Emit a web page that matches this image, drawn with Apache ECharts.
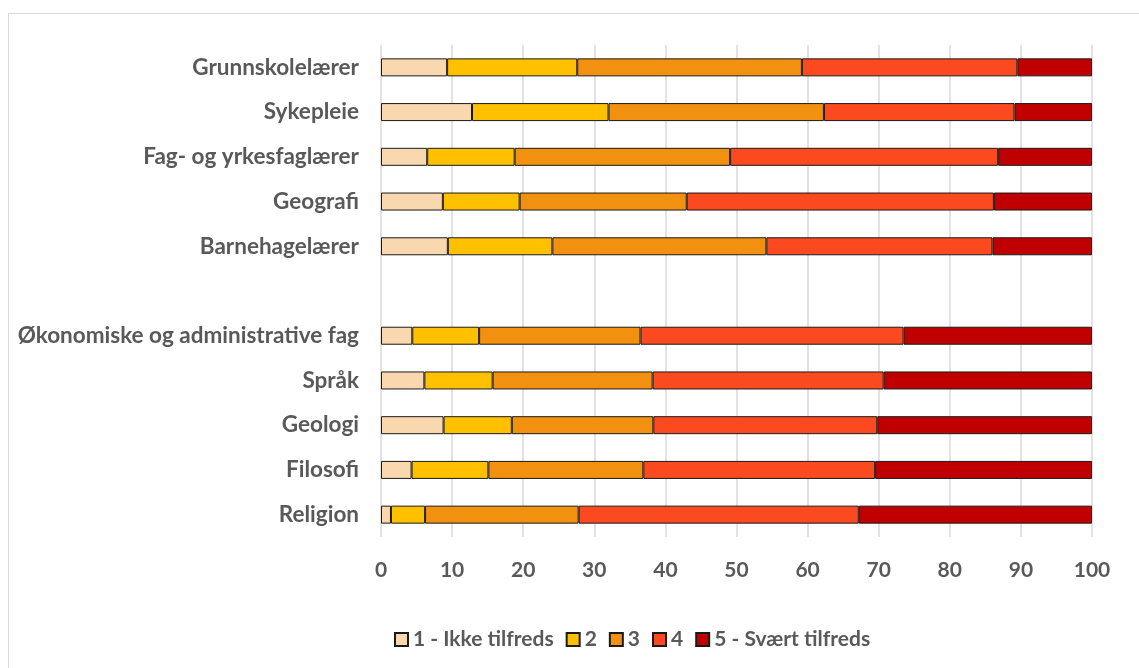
<!DOCTYPE html>
<html>
<head>
<meta charset="utf-8">
<script src="https://cdn.jsdelivr.net/npm/echarts@6/dist/echarts.min.js"></script>
<style>
  html, body { margin: 0; padding: 0; background: #fff; overflow: hidden; }
  #frame { position: absolute; left: 8px; top: 13px; width: 1200px; height: 700px; border: 1px solid #d9d9d9; }
  #chart { position: absolute; left: 0; top: 0; width: 1139px; height: 668px; }
</style>
</head>
<body>
<div id="frame"></div>
<div id="chart"></div>
<script>
// categories top to bottom, '' is the blank separator row
const categories = [
  'Grunnskolelærer', 'Sykepleie', 'Fag- og yrkesfaglærer', 'Geografi', 'Barnehagelærer',
  '',
  'Økonomiske og administrative fag', 'Språk', 'Geologi', 'Filosofi', 'Religion'
]
const seriesNames = ['1 - Ikke tilfreds', '2', '3', '4', '5 - Svært tilfreds']

// percent per answer level
const level1 = [9.3, 12.8, 6.5, 8.7, 9.4, null, 4.4, 6.1, 8.8, 4.3, 1.4]
const level2 = [18.3, 19.2, 12.3, 10.8, 14.7, null, 9.4, 9.6, 9.6, 10.8, 4.8]
const level3 = [31.6, 30.3, 30.3, 23.5, 30.1, null, 22.7, 22.5, 19.9, 21.8, 21.6]
const level4 = [30.3, 26.8, 37.7, 43.2, 31.8, null, 37.0, 32.5, 31.5, 32.6, 39.4]
const level5 = [10.5, 10.9, 13.2, 13.8, 14.0, null, 26.5, 29.3, 30.2, 30.5, 32.8]

const colors = ['#F9D8B0', '#FFC000', '#F2900F', '#FC4A20', '#C00000']
const levels = [level1, level2, level3, level4, level5]
const textColor = '#595959'
const fontFamily = 'Lato, "Open Sans", sans-serif'

const chart = echarts.init(document.getElementById('chart'))

chart.setOption({
  animation: false,
  textStyle: { fontFamily },
  grid: { left: 381, right: 47, top: 45, bottom: 131, containLabel: false },
  legend: {
    bottom: 13,
    left: 389,
    itemWidth: 13,
    itemHeight: 13,
    itemGap: 12,
    icon: 'rect',
    textStyle: { color: textColor, fontSize: 21, fontWeight: 'bold', fontFamily },
    data: seriesNames,
  },
  xAxis: {
    type: 'value',
    min: 0,
    max: 100,
    interval: 10,
    axisLine: { show: false },
    axisTick: { show: false },
    splitLine: { lineStyle: { color: '#d9d9d9', width: 1.5 } },
    axisLabel: { color: textColor, fontSize: 21, fontWeight: 'bold', margin: 23, fontFamily },
  },
  yAxis: {
    type: 'category',
    inverse: true,
    data: categories,
    axisLine: { show: false },
    axisTick: { show: false },
    axisLabel: { color: textColor, fontSize: 22.5, fontWeight: 'bold', margin: 22, fontFamily },
  },
  series: levels.map((vals, i) => ({
    name: seriesNames[i],
    type: 'bar',
    stack: 'total',
    barWidth: 18,
    data: vals,
    itemStyle: { color: colors[i], borderColor: '#1a1a1a', borderWidth: 1 },
  })),
})
</script>
</body>
</html>
